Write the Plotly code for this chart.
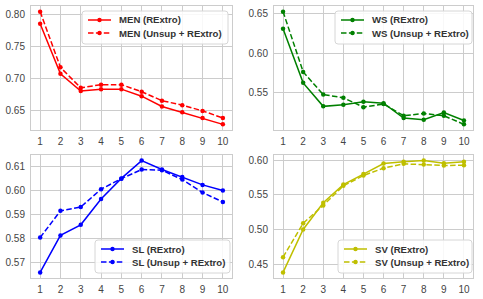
import plotly.graph_objects as go

x = [1, 2, 3, 4, 5, 6, 7, 8, 9, 10]

men_rextro = [0.786, 0.708, 0.681, 0.684, 0.684, 0.673, 0.657, 0.648, 0.639, 0.629]
men_unsup = [0.805, 0.718, 0.686, 0.691, 0.691, 0.680, 0.666, 0.659, 0.650, 0.639]

ws_rextro = [0.631, 0.562, 0.532, 0.534, 0.538, 0.536, 0.517, 0.515, 0.524, 0.514]
ws_unsup = [0.653, 0.576, 0.547, 0.543, 0.531, 0.535, 0.520, 0.523, 0.520, 0.509]

sl_rextro = [0.5658, 0.5812, 0.5856, 0.5963, 0.6049, 0.6123, 0.6086, 0.6055, 0.6022, 0.5999]
sl_unsup = [0.5803, 0.5914, 0.5930, 0.6004, 0.6048, 0.6086, 0.6083, 0.6044, 0.5990, 0.5951]

sv_rextro = [0.438, 0.500, 0.5386, 0.5648, 0.580, 0.5952, 0.598, 0.5995, 0.5957, 0.598]
sv_unsup = [0.460, 0.509, 0.5348, 0.563, 0.578, 0.5886, 0.5948, 0.5938, 0.5924, 0.5929]

panels = [
    ("MEN", men_rextro, men_unsup, "#ff0000", [0.65, 0.70, 0.75, 0.80]),
    ("WS", ws_rextro, ws_unsup, "#008000", [0.55, 0.60, 0.65]),
    ("SL", sl_rextro, sl_unsup, "#0000ff", [0.57, 0.58, 0.59, 0.60, 0.61]),
    ("SV", sv_rextro, sv_unsup, "#bfbf00", [0.45, 0.50, 0.55, 0.60]),
]

W, H = 483, 299
xdoms = [[31 / W, 232 / W], [274 / W, 473 / W]]
ydoms = [[1 - 130 / H, 1 - 6 / H], [1 - 278 / H, 1 - 155 / H]]
# legend boxes in pixels: left, top, right, bottom
legbox = [(82, 11, 228, 44), (335, 11, 472, 44), (95, 240, 230, 273), (338, 240, 472, 273)]
DASH = "5.5px,2.4px"


def px(xp):
    return xp / W


def py(yp):
    return 1 - yp / H


fig = go.Figure()
layout = dict(
    width=W, height=H, margin=dict(l=0, r=0, t=0, b=0),
    paper_bgcolor="white", plot_bgcolor="white", showlegend=False,
    font=dict(family="Liberation Sans, Arial, sans-serif", size=10, color="#444444"),
)
shapes = []
annotations = []

for i, (name, a, b, color, yt) in enumerate(panels):
    r, c = divmod(i, 2)
    ax = "" if i == 0 else str(i + 1)
    allv = a + b
    lo, hi = min(allv), max(allv)
    pad = (hi - lo) * 0.05
    labels = [f"{name} (RExtro)", f"{name} (Unsup + RExtro)"]
    fig.add_trace(go.Scatter(
        x=x, y=a, mode="lines+markers", name=labels[0],
        line=dict(color=color, width=1.5), marker=dict(size=4.5, color=color),
        xaxis="x" + ax, yaxis="y" + ax))
    fig.add_trace(go.Scatter(
        x=x, y=b, mode="lines+markers", name=labels[1],
        line=dict(color=color, width=1.5, dash=DASH), marker=dict(size=4.5, color=color),
        xaxis="x" + ax, yaxis="y" + ax))
    common = dict(showgrid=True, gridcolor="#cccccc", gridwidth=1, showline=True,
                  linecolor="#cccccc", linewidth=1, mirror=True, zeroline=False,
                  ticks="", tickfont=dict(size=10, color="#444444"))
    layout["xaxis" + ax] = dict(domain=xdoms[c], range=[0.55, 10.45], tickmode="array",
                               tickvals=x, anchor="y" + ax, ticklabelstandoff=2, **common)
    layout["yaxis" + ax] = dict(domain=ydoms[r], range=[lo - pad, hi + pad], tickmode="array",
                               tickvals=yt, ticktext=[f"{v:.2f}" for v in yt],
                               anchor="x" + ax, ticklabelstandoff=3, **common)

    # custom legend box (rounded)
    L, T, R, B = legbox[i]
    rad = 3
    path = (f"M {px(L + rad)},{py(T)} L {px(R - rad)},{py(T)} Q {px(R)},{py(T)} {px(R)},{py(T + rad)} "
            f"L {px(R)},{py(B - rad)} Q {px(R)},{py(B)} {px(R - rad)},{py(B)} "
            f"L {px(L + rad)},{py(B)} Q {px(L)},{py(B)} {px(L)},{py(B - rad)} "
            f"L {px(L)},{py(T + rad)} Q {px(L)},{py(T)} {px(L + rad)},{py(T)} Z")
    shapes.append(dict(type="path", path=path, xref="paper", yref="paper",
                       fillcolor="rgba(255,255,255,0.85)", line=dict(color="#d6d6d6", width=1),
                       layer="above"))
    for k, lab in enumerate(labels):
        yy = T + 9 + 13 * k
        shapes.append(dict(type="line", xref="paper", yref="paper",
                           x0=px(L + 6), x1=px(L + 29), y0=py(yy), y1=py(yy),
                           line=dict(color=color, width=1.5, dash="solid" if k == 0 else DASH),
                           layer="above"))
        cx = L + 17.5
        shapes.append(dict(type="circle", xref="paper", yref="paper",
                           x0=px(cx - 2.2), x1=px(cx + 2.2), y0=py(yy + 2.2), y1=py(yy - 2.2),
                           fillcolor=color, line=dict(color=color, width=0), layer="above"))
        annotations.append(dict(x=px(L + 35), y=py(yy), xref="paper", yref="paper",
                                text=lab, showarrow=False, xanchor="left", yanchor="middle",
                                font=dict(size=9.6, color="#333333", weight="bold")))

layout["shapes"] = shapes
layout["annotations"] = annotations
fig.update_layout(**layout)
fig.write_html("out.html", config={"displayModeBar": False},
               post_script="document.body.style.margin='0';document.body.style.overflow='hidden';")
